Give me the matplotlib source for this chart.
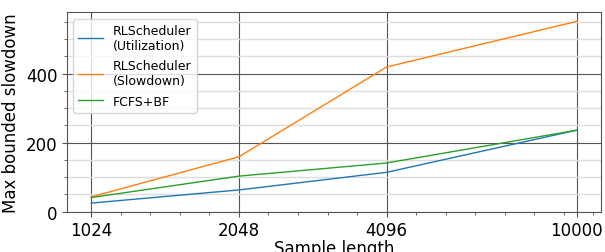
import numpy as np
import matplotlib
matplotlib.use("Agg")
import matplotlib.pyplot as plt
from matplotlib.ticker import AutoMinorLocator

sample_lengths = [1024, 2048, 4096, 10000]
tick_labels = ["1024", "2048", "4096", "10000"]
rl_util = [25, 63, 114, 236]
rl_slow = [43, 159, 419, 551]
fcfs_bf = [41, 103, 141, 236]

x = np.log2(sample_lengths)

fig = plt.figure(figsize=(6.05, 2.53), dpi=100)
ax = fig.add_axes([67 / 605, 1 - 212.7 / 253, (601 - 67) / 605, (212.7 - 13.3) / 253])

ax.plot(x, rl_util, color="tab:blue", lw=1, label="RLScheduler\n(Utilization)")
ax.plot(x, rl_slow, color="tab:orange", lw=1, label="RLScheduler\n(Slowdown)")
ax.plot(x, fcfs_bf, color="tab:green", lw=1, label="FCFS+BF")

ax.set_ylim(bottom=0)
ax.set_xticks(x)
ax.set_xticklabels(tick_labels)
ax.set_yticks([0, 200, 400])
ax.xaxis.set_minor_locator(AutoMinorLocator(5))
ax.yaxis.set_minor_locator(AutoMinorLocator(4))

ax.grid(which="major", color="#555555", lw=0.8)
ax.grid(which="minor", axis="y", color="#dddddd", lw=1)
ax.set_axisbelow(True)
for s in ax.spines.values():
    s.set_color("#555555")

ax.tick_params(which="major", labelsize=12, color="#555555")
ax.tick_params(which="minor", color="#555555")
ax.set_xlabel("Sample length", fontsize=12, labelpad=0)
ax.set_ylabel("Max bounded slowdown", fontsize=12)
ax.legend(loc="upper left", fontsize=9, labelspacing=0.6)

plt.savefig("out.png", dpi=100)
